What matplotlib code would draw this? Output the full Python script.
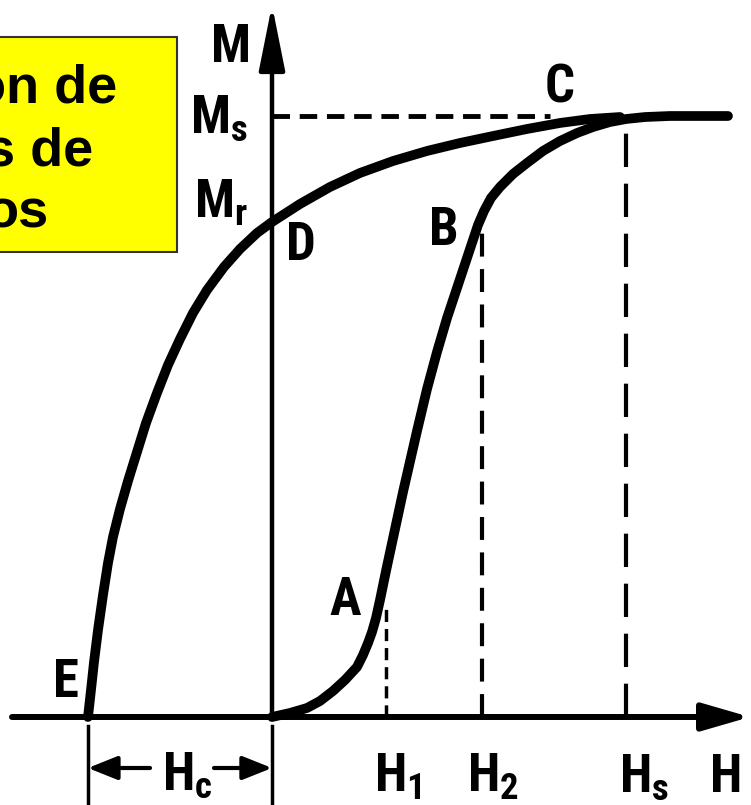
import matplotlib
matplotlib.use("Agg")
import matplotlib.pyplot as plt
import matplotlib.patches as patches
from matplotlib import font_manager

# --- data (H normalised to Hs = 1, M normalised to Ms = 1) ---
H_sat = 1.0
M_sat = 1.0
H_1 = 0.322
H_2 = 0.593
H_c = -0.520
M_r = 0.824
M_H1_guide = 0.19
M_H2_guide = 0.82
H_Ms_guide_end = 0.785

# initial magnetisation curve O-A-B-C
init_H = [0.0, 0.0508, 0.0989, 0.1356, 0.1723, 0.2062, 0.2401, 0.2571, 0.2712,
          0.2825, 0.2938, 0.3051, 0.3220, 0.3390, 0.3701, 0.4096, 0.4379, 0.4661,
          0.4944, 0.5226, 0.5508, 0.5819, 0.5989, 0.6186, 0.6441, 0.6808, 0.7203,
          0.7655, 0.8136, 0.8616, 0.9068, 0.9548, 1.0, 1.0537, 1.1243, 1.2881]
init_M = [0.0, 0.0067, 0.0150, 0.0266, 0.0433, 0.0616, 0.0832, 0.1032, 0.1231,
          0.1414, 0.1647, 0.1947, 0.2429, 0.2895, 0.3744, 0.4759, 0.5458, 0.6073,
          0.6639, 0.7138, 0.7637, 0.8186, 0.8419, 0.8636, 0.8819, 0.9035, 0.9218,
          0.9418, 0.9584, 0.9717, 0.9817, 0.9900, 0.9950, 0.9983, 1.0, 1.0]

# demagnetisation curve C-D-E
dem_H = [0.9831, 0.8983, 0.8136, 0.7203, 0.6243, 0.5311, 0.4379, 0.3418, 0.2486,
         0.1638, 0.0791, 0.0, -0.0424, -0.0904, -0.1356, -0.1836, -0.2232,
         -0.2599, -0.2938, -0.3249, -0.3559, -0.3814, -0.4068, -0.4294, -0.4492,
         -0.4633, -0.4774, -0.4915, -0.5028, -0.5113, -0.5198]
dem_M = [0.9983, 0.9950, 0.9884, 0.9784, 0.9667, 0.9551, 0.9418, 0.9251, 0.9052,
         0.8819, 0.8536, 0.8236, 0.8053, 0.7787, 0.7488, 0.7105, 0.6722, 0.6290,
         0.5857, 0.5391, 0.4892, 0.4409, 0.3927, 0.3461, 0.2995, 0.2562, 0.2030,
         0.1448, 0.0915, 0.0449, 0.0]

box_lines = ["ón de", "s de", "os"]

# --- layout helper: reference pixel position -> data units ---
X0, Y0, SX, SY = 272.0, 717.0, 354.0, 601.0


def px(x, y):
    return (x - X0) / SX, (Y0 - y) / SY


# pick the narrowest bold sans available
names = {f.name for f in font_manager.fontManager.ttflist}
narrow = "Liberation Sans"
for cand in ["Liberation Sans Narrow", "Roboto Condensed", "Open Sans Condensed"]:
    if cand in names:
        narrow = cand
        break
plt.rcParams["mathtext.default"] = "regular"

fig = plt.figure(figsize=(7.51, 8.05), dpi=100)
ax = fig.add_axes([0, 0, 1, 1])
ax.set_xlim(px(0, 0)[0], px(751, 0)[0])
ax.set_ylim(px(0, 805)[1], px(0, 0)[1])
ax.axis("off")

# axes with arrows
ax.annotate("", xy=px(750, Y0), xytext=px(12, Y0),
            arrowprops=dict(arrowstyle="-|>,head_length=1.45,head_width=0.42",
                            mutation_scale=20, lw=4.3, color="black",
                            shrinkA=0, shrinkB=0))
ax.annotate("", xy=px(X0, 5), xytext=px(X0, Y0),
            arrowprops=dict(arrowstyle="-|>,head_length=2.0,head_width=0.4",
                            mutation_scale=20, lw=3.2, color="black",
                            shrinkA=0, shrinkB=0))

# dashed guides
ax.plot([0, H_Ms_guide_end], [M_sat, M_sat], color="black", lw=3.5, ls=(0, (3.6, 2.0)))
ax.plot([H_1, H_1], [0, M_H1_guide], color="black", lw=2.5, ls=(0, (3.5, 2.0)))
ax.plot([H_2, H_2], [0, M_H2_guide], color="black", lw=3, ls=(0, (5.5, 3.0)))
ax.plot([H_sat, H_sat], [0, M_sat], color="black", lw=3, ls=(0, (8.0, 4.0)))

# curves
ax.plot(init_H, init_M, color="black", lw=7, solid_capstyle="round",
        solid_joinstyle="round")
ax.plot(dem_H, dem_M, color="black", lw=7, solid_capstyle="round",
        solid_joinstyle="round")

# coercive field markers below axis
lo = px(0, 726)[1]
hi = px(0, 805)[1]
ax.plot([H_c, H_c], [lo, hi], color="black", lw=2.5)
ax.plot([0, 0], [lo, hi], color="black", lw=2.5)
yarr = px(0, 768)[1]
for tip, tail in [(H_c, px(150, 0)[0]), (0, px(214, 0)[0])]:
    ax.annotate("", xy=(tip, yarr), xytext=(tail, yarr),
                arrowprops=dict(arrowstyle="-|>,head_length=1.0,head_width=0.4",
                                mutation_scale=18, lw=3, color="black",
                                shrinkA=0, shrinkB=0))

# labels
lab = dict(fontsize=38, fontweight="bold", family=narrow, color="black",
           va="baseline")
labels = [("M", 251, 62, "right"), ("$M_s$", 248, 133, "right"),
          ("$M_r$", 248, 218, "right"), ("D", 301, 260, "center"),
          ("B", 444, 245, "center"), ("C", 560, 102, "center"),
          ("A", 345, 615, "center"), ("E", 66, 697, "center"),
          ("$H_c$", 187, 790, "center"), ("$H_1$", 374, 792, "left"),
          ("$H_2$", 467, 792, "left"), ("$H_s$", 619, 792, "left"),
          ("H", 742, 792, "right")]
for text, x, y, ha in labels:
    ax.text(*px(x, y), text, ha=ha, **lab)

# yellow title box, cut off at the left edge
bx0, by0 = px(-10, 252)
bx1, by1 = px(177, 37)
ax.add_patch(patches.Rectangle((bx0, by0), bx1 - bx0, by1 - by0,
                               facecolor="#ffff00", edgecolor="#333333", lw=1.5,
                               zorder=5))
for text, x, y in zip(box_lines, [117, 93, 49], [102, 165, 228]):
    ax.text(*px(x, y), text, fontsize=39, fontweight="bold",
            family="Liberation Sans", ha="right", va="baseline", zorder=6)

fig.savefig("out.png", dpi=100)
